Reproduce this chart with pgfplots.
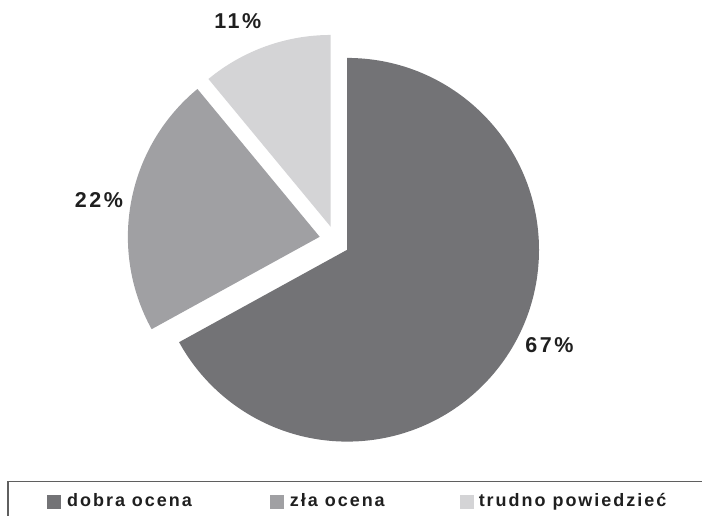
\documentclass[border=0pt]{standalone}
\usepackage{fontspec}
\setmainfont{Liberation Sans}
\newfontfamily\legfont[LetterSpace=11]{Liberation Sans}
\newfontfamily\lblfont[LetterSpace=12]{Liberation Sans}
\usepackage{pgfplots}
\pgfplotsset{compat=1.18}
\definecolor{cA}{RGB}{115,115,118}
\definecolor{cB}{RGB}{160,160,163}
\definecolor{cC}{RGB}{212,212,214}
\definecolor{cBox}{RGB}{95,95,95}
% data (percent)
\def\pA{67}
\def\pB{22}
\def\pC{11}
\begin{document}
\begin{tikzpicture}
\begin{axis}[scale only axis, width=703pt, height=516pt,
  xmin=0, xmax=703, ymin=0, ymax=516, hide axis, clip=false]
\path (axis cs:0,0) rectangle (axis cs:703,516);
\pgfmathsetmacro{\aS}{90}
\pgfmathsetmacro{\aA}{90-3.6*\pA}
\pgfmathsetmacro{\aB}{\aA-3.6*\pB}
\pgfmathsetmacro{\aC}{\aB-3.6*\pC}
% slices
\fill[cA] (axis cs:347.5,266) -- ++(\aS:192pt) arc[start angle=\aS, end angle=\aA, radius=192pt] -- cycle;
\fill[cB] (axis cs:320,279) -- ++(\aA:192pt) arc[start angle=\aA, end angle=\aB, radius=192pt] -- cycle;
\fill[cC] (axis cs:331,289) -- ++(\aB:192pt) arc[start angle=\aB, end angle=\aC, radius=192pt] -- cycle;
% labels
\node[inner sep=0pt, anchor=center, font=\lblfont\fontsize{21.5}{25}\selectfont\bfseries, text=black!88] at (axis cs:550,171) {\pA\%};
\node[inner sep=0pt, anchor=center, font=\lblfont\fontsize{21.5}{25}\selectfont\bfseries, text=black!88] at (axis cs:99,316) {\pB\%};
\node[inner sep=0pt, anchor=center, font=\lblfont\fontsize{21.5}{25}\selectfont\bfseries, text=black!88] at (axis cs:238,495) {\pC\%};
% legend
\draw[cBox, line width=1.3pt] (axis cs:8,0) -- (axis cs:8,34) -- (axis cs:703,34);
\fill[cA] (axis cs:47,7) rectangle (axis cs:61,21);
\fill[cB] (axis cs:270,7) rectangle (axis cs:284,21);
\fill[cC] (axis cs:460,7) rectangle (axis cs:474,21);
\node[inner sep=0pt, anchor=base west, font=\legfont\fontsize{18}{20}\selectfont\bfseries, text=black!88] at (axis cs:67,9) {dobra ocena};
\node[inner sep=0pt, anchor=base west, font=\legfont\fontsize{18}{20}\selectfont\bfseries, text=black!88] at (axis cs:290,9) {zła ocena};
\node[inner sep=0pt, anchor=base west, font=\legfont\fontsize{18}{20}\selectfont\bfseries, text=black!88] at (axis cs:479,9) {trudno powiedzieć};
\end{axis}
\end{tikzpicture}
\end{document}
